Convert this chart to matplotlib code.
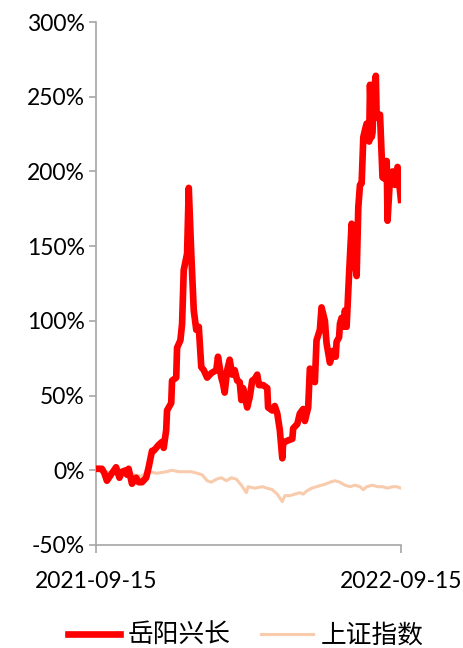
import matplotlib.pyplot as plt
import numpy as np

plt.rcParams['font.family'] = ['Lato', 'Noto Sans CJK SC', 'DejaVu Sans']

# Day offset from 2021-09-15 and cumulative return (%)
red_days = [0, 7, 10, 13, 19, 24, 28, 31, 36, 37, 39, 43, 48, 51, 55, 60, 63, 67, 69, 75,
            79, 81, 84, 85, 90, 91, 96, 97, 101, 103, 105, 109, 111, 114, 117, 120, 123, 126, 129, 133,
            138, 144, 146, 150, 152, 154, 157, 160, 163, 166, 169, 172, 174, 176, 181, 184, 187, 190, 193, 195,
            200, 205, 206, 211, 214, 217, 220, 223, 224, 226, 230, 235, 236, 241, 244, 248, 250, 254, 256, 260,
            262, 264, 268, 270, 274, 276, 280, 284, 287, 288, 291, 292, 294, 296, 298, 300, 303, 306, 309, 312,
            314, 316, 318, 320, 323, 324, 327, 328, 330, 331, 333, 335, 336, 340, 343, 346, 348, 349, 352, 355,
            358, 361, 365]
red_vals = [1, 1, -2, -7, -2, 2, -5, -1, 0, -3, 1, -9, -5, -8, -8, -5, 2, 13, 13, 17,
            19, 15, 27, 40, 45, 60, 62, 82, 87, 98, 134, 145, 189, 145, 107, 94, 96, 69, 67, 62,
            65, 67, 76, 62, 58, 52, 67, 74, 64, 67, 60, 59, 47, 55, 42, 49, 60, 61, 64, 57,
            57, 55, 42, 40, 43, 38, 27, 8, 18, 19, 20, 21, 28, 31, 38, 41, 33, 42, 68, 67,
            59, 87, 94, 109, 100, 85, 72, 80, 76, 86, 89, 98, 102, 96, 107, 96, 132, 165, 145, 130,
            176, 191, 192, 223, 230, 232, 220, 258, 223, 226, 256, 264, 236, 238, 196, 195, 207, 167, 196, 200,
            191, 203, 181]

sh_days = [0, 10, 22, 34, 45, 54, 63, 73, 84, 91, 99, 105, 114, 121, 127, 133, 138, 144, 150, 156,
           162, 168, 174, 180, 182, 190, 199, 205, 211, 217, 223, 226, 232, 238, 244, 248, 252, 258, 264, 270,
           276, 280, 286, 292, 298, 304, 310, 316, 320, 324, 331, 337, 343, 349, 355, 360, 365]
sh_vals = [0, -1, -2, -1, -3, -4, -1, -2, -1, 0, -1, -1, -1, -2, -3, -7, -8, -6, -5, -7,
           -5, -6, -10, -15, -11, -12, -11, -12, -13, -16, -21, -17, -17, -16, -15, -16, -14, -12, -11, -10,
           -9, -8, -7, -8, -10, -11, -10, -11, -13, -11, -10, -11, -11, -12, -11, -11, -12]

x_labels = ['2021-09-15', '2022-09-15']

fig = plt.figure(figsize=(4.64, 6.48), dpi=100)
ax = fig.add_axes([0.207, 0.159, 0.657, 0.807])

ax.plot(sh_days, np.array(sh_vals) / 100, color='#F8CBAD', lw=2.2, label='上证指数', zorder=2)
ax.plot(red_days, np.array(red_vals) / 100, color='#FF0000', lw=4.8, label='岳阳兴长',
        solid_joinstyle='round', zorder=3)

ax.set_xlim(0, 365)
ax.set_ylim(-0.5, 3.0)
ax.set_yticks(np.arange(-0.5, 3.01, 0.5))
ax.set_yticklabels(['{:.0f}%'.format(v * 100) for v in np.arange(-0.5, 3.01, 0.5)])
ax.set_xticks([0, 365])
ax.set_xticklabels(x_labels)

for s in ['top', 'right']:
    ax.spines[s].set_visible(False)
for s in ['left', 'bottom']:
    ax.spines[s].set_color('#A6A6A6')
    ax.spines[s].set_linewidth(1.2)
ax.tick_params(axis='y', length=5, width=1.2, color='#A6A6A6', labelsize=16.5, pad=3)
ax.tick_params(axis='x', length=6, width=1.2, color='#A6A6A6', labelsize=16.5, pad=13)

handles, labels = ax.get_legend_handles_labels()
leg = fig.legend(handles[::-1], labels[::-1], loc='center', bbox_to_anchor=(0.53, 0.019),
                 ncol=2, frameon=False, handlelength=2.0, columnspacing=1.2,
                 handletextpad=0.3, prop={'family': ['Noto Sans CJK SC'], 'size': 18.5})

fig.savefig('out.png', dpi=100)
